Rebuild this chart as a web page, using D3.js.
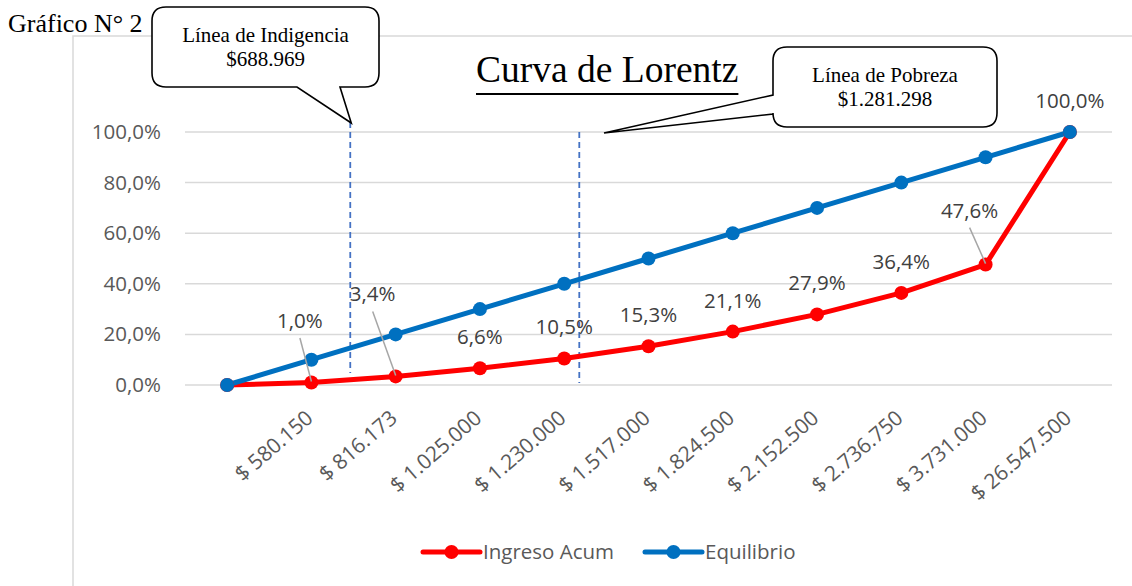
<!DOCTYPE html>
<html><head><meta charset="utf-8">
<script src="https://cdn.jsdelivr.net/npm/d3@7"></script>
<style>body{margin:0;background:#fff} svg{display:block}</style>
</head><body><svg id="c" width="1132" height="586"></svg>
<script>
// ---- data ----
const categories = ["", "$ 580.150", "$ 816.173", "$ 1.025.000", "$ 1.230.000", "$ 1.517.000", "$ 1.824.500", "$ 2.152.500", "$ 2.736.750", "$ 3.731.000", "$ 26.547.500"];
const incomes = [580150, 816173, 1025000, 1230000, 1517000, 1824500, 2152500, 2736750, 3731000, 26547500];
const ingresoAcum = [0, 0.010, 0.034, 0.066, 0.105, 0.153, 0.211, 0.279, 0.364, 0.476, 1.0];
const equilibrio = [0, 0.1, 0.2, 0.3, 0.4, 0.5, 0.6, 0.7, 0.8, 0.9, 1.0];
const yTicks = [0, 0.2, 0.4, 0.6, 0.8, 1.0];
const seriesNames = ["Ingreso Acum", "Equilibrio"];
const thresholdLabels = ["Línea de Indigencia", "Línea de Pobreza"];
const thresholdValues = [688969, 1281298];
const thresholdTexts = ["$688.969", "$1.281.298"];

// ---- setup ----
const svg = d3.select("#c");
const W = 1132, H = 586;
const loc = d3.formatLocale({decimal: ",", thousands: ".", grouping: [3], currency: ["$", ""]});
const pct = loc.format(".1%");
const sans = "'Open Sans', sans-serif";
const serif = "'Liberation Serif', 'Times New Roman', serif";
const red = "#FF0000", blue = "#0070C0";

const x = d3.scaleBand().domain(d3.range(categories.length)).range([185, 1112]).padding(0);
const xc = i => x(i) + x.bandwidth() / 2;
const y = d3.scaleLinear().domain([0, 1]).range([385, 132]);
const xIncome = d3.scaleLinear().domain(incomes).range(incomes.map((d, i) => xc(i + 1)));

// chart frame (partly visible)
svg.append("path").attr("d", `M73,${H} V36 H${W}`).attr("fill", "none").attr("stroke", "#d9d9d9").attr("stroke-width", 1.5);

// gridlines
svg.append("g").selectAll("line").data(yTicks).join("line")
  .attr("x1", 185).attr("x2", 1112).attr("y1", d => y(d)).attr("y2", d => y(d))
  .attr("stroke", "#d9d9d9").attr("stroke-width", 1.5);

// y axis
const yAxis = svg.append("g").attr("transform", "translate(185,0)")
  .call(d3.axisLeft(y).tickValues(yTicks).tickFormat(pct).tickSize(0).tickPadding(24));
yAxis.select(".domain").remove();
yAxis.selectAll("text").attr("font-family", sans).attr("font-size", 20.5).attr("fill", "#595959");

// x axis labels
const xAxis = svg.append("g").attr("transform", "translate(0,385)")
  .call(d3.axisBottom(x).tickFormat(i => categories[i]).tickSize(0));
xAxis.select(".domain").remove();
xAxis.selectAll(".tick text")
  .attr("font-family", sans).attr("font-size", 21).attr("fill", "#595959")
  .attr("text-anchor", "end").attr("y", 0).attr("dy", 0)
  .attr("transform", "translate(3,35) rotate(-41)");

// threshold dashed lines
const dashTop = [1.04, 1.0], dashBot = [0.047, 0.008];
svg.append("g").selectAll("line").data(thresholdValues).join("line")
  .attr("x1", d => xIncome(d)).attr("x2", d => xIncome(d))
  .attr("y1", (d, i) => y(dashTop[i])).attr("y2", (d, i) => y(dashBot[i]))
  .attr("stroke", "#4472C4").attr("stroke-width", 1.8).attr("stroke-dasharray", "6,4");

// lines
const line = d3.line().x((d, i) => xc(i)).y(d => y(d));
const series = [{name: seriesNames[0], vals: ingresoAcum, color: red}, {name: seriesNames[1], vals: equilibrio, color: blue}];
series.forEach(s => {
  svg.append("path").attr("d", line(s.vals)).attr("fill", "none")
    .attr("stroke", s.color).attr("stroke-width", 5).attr("stroke-linejoin", "round");
});
series.forEach(s => {
  svg.append("g").selectAll("circle").data(s.vals).join("circle")
    .attr("cx", (d, i) => xc(i)).attr("cy", d => y(d)).attr("r", 7).attr("fill", s.color);
});

// data labels for Ingreso Acum
const labelOffsets = {1: [-11.5, -54.5], 2: [-23, -75], 9: [-16, -47]};
const lg = svg.append("g");
ingresoAcum.forEach((v, i) => {
  if (i === 0) return;
  const px = xc(i), py = y(v);
  const off = labelOffsets[i] || [0, -24];
  const lx = px + off[0], ly = py + off[1];
  if (labelOffsets[i]) {
    lg.append("line").attr("x1", lx).attr("y1", ly + 10).attr("x2", px).attr("y2", py - 1)
      .attr("stroke", "#a6a6a6").attr("stroke-width", 1.5);
  }
  lg.append("text").attr("x", lx).attr("y", ly).attr("text-anchor", "middle")
    .attr("font-family", sans).attr("font-size", 20.5).attr("fill", "#404040").text(pct(v));
});

// legend
const legX = [423, 645];
series.forEach((s, k) => {
  const g = svg.append("g").attr("transform", `translate(${legX[k]},552)`);
  g.append("line").attr("x1", 0).attr("x2", 57).attr("stroke", s.color).attr("stroke-width", 5).attr("stroke-linecap", "round");
  g.append("circle").attr("cx", 28.5).attr("r", 7).attr("fill", s.color);
  g.append("text").attr("x", 60).attr("y", 7).attr("font-family", sans).attr("font-size", 20.5).attr("fill", "#595959").text(s.name);
});

// title texts
svg.append("text").attr("x", 8).attr("y", 32).attr("font-family", serif).attr("font-size", 26).attr("fill", "#000").text("Gráfico N° 2");
const t = svg.append("text").attr("x", 476).attr("y", 82).attr("font-family", serif).attr("font-size", 37.5).attr("fill", "#000").text("Curva de Lorentz");
const tw = t.node().getComputedTextLength();
svg.append("line").attr("x1", 476).attr("x2", 476 + tw).attr("y1", 94).attr("y2", 94).attr("stroke", "#000").attr("stroke-width", 2);

// callouts
function calloutPath(x0, y0, x1, y1, r, tail) {
  if (tail.side === "bottom") {
    return `M${x0+r},${y0} H${x1-r} Q${x1},${y0} ${x1},${y0+r} V${y1-r} Q${x1},${y1} ${x1-r},${y1} H${tail.a} L${tail.tx},${tail.ty} L${tail.b},${y1} H${x0+r} Q${x0},${y1} ${x0},${y1-r} V${y0+r} Q${x0},${y0} ${x0+r},${y0} Z`;
  }
  return `M${x0+r},${y0} H${x1-r} Q${x1},${y0} ${x1},${y0+r} V${y1-r} Q${x1},${y1} ${x1-r},${y1} H${x0+r} Q${x0},${y1} ${x0},${y1-r} V${tail.a} L${tail.tx},${tail.ty} L${x0},${tail.b} V${y0+r} Q${x0},${y0} ${x0+r},${y0} Z`;
}
const callouts = [
  {box: [152, 7, 379, 87], tail: {side: "bottom", a: 340, b: 297, tx: xIncome(thresholdValues[0]) + 1, ty: 123}},
  {box: [773, 47, 997, 127], tail: {side: "left", a: 114, b: 95, tx: 604, ty: 133}}
];
callouts.forEach((c, k) => {
  const [x0, y0, x1, y1] = c.box;
  svg.append("path").attr("d", calloutPath(x0, y0, x1, y1, 14, c.tail))
    .attr("fill", "#fff").attr("stroke", "#000").attr("stroke-width", 1.6);
  const cx = (x0 + x1) / 2;
  svg.append("text").attr("x", cx).attr("y", y0 + 35).attr("text-anchor", "middle")
    .attr("font-family", serif).attr("font-size", 21).attr("fill", "#000").text(thresholdLabels[k]);
  svg.append("text").attr("x", cx).attr("y", y0 + 59).attr("text-anchor", "middle")
    .attr("font-family", serif).attr("font-size", 21).attr("fill", "#000").text(thresholdTexts[k]);
});
</script></body></html>
